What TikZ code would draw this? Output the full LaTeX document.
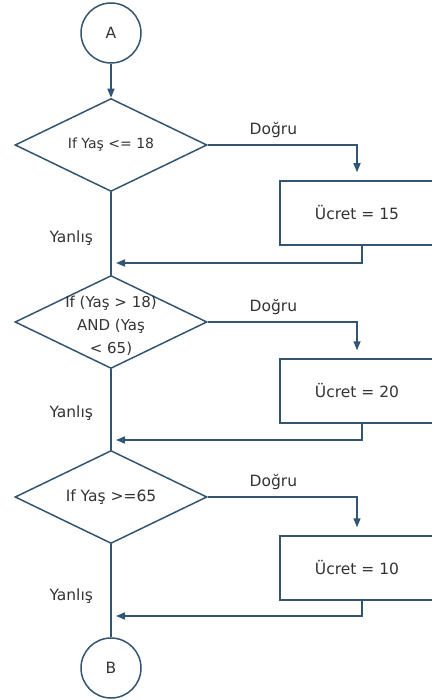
\documentclass[tikz,border=0pt]{standalone}
\usepackage{fontspec}
\setmainfont{DejaVu Sans}
\usetikzlibrary{arrows.meta,
                shapes.geometric}

\definecolor{lineblue}{HTML}{34546F}
\definecolor{tipblue}{HTML}{1F5C99}
\definecolor{txtgray}{HTML}{333333}

\begin{document}
\begin{tikzpicture}%
            [x = 1pt, y = -1pt,
             line/.style = {draw = lineblue, line width = 1.5pt},
             arr/.style = {line, -{Triangle[length=9pt,width=7pt,fill=tipblue]}},
             term/.style = {circle, line, minimum size = 60pt, inner sep = 0pt},
             decision/.style = {diamond, line, minimum width = 192pt, minimum height = 93pt, inner sep = 0pt},
             process/.style = {rectangle, line, minimum width = 154pt, minimum height = 64pt},
             txt/.style = {text = txtgray, font = \fontsize{15.5}{17}\selectfont, align = center}]
            \useasboundingbox (0,0) rectangle (431,700);

            \node [term, txt] (A) at (111,33) {A};
            \node [decision] (d1) at (111,145) {};
            \node [txt, font = \fontsize{14}{16}\selectfont] (t1) at (d1) {If Yaş <= 18};
            \node [process, txt] (b1) at (357,213) {Ücret = 15};

            \node [decision] (d2) at (111,322) {};
            \node [txt, font = \fontsize{15}{23}\selectfont] (t2) at (111,326) {If (Yaş > 18)\\AND (Yaş\\< 65)};
            \node [process, txt] (b2) at (357,391) {Ücret = 20};

            \node [decision] (d3) at (111,497) {};
            \node [txt] (t3) at (d3) {If Yaş >=65};
            \node [process, txt] (b3) at (357,568) {Ücret = 10};

            \node [term, txt] (B) at (111,668) {B};

            \coordinate (j1) at (111,263);
            \coordinate (j2) at (111,440);
            \coordinate (j3) at (111,616);

            \draw [arr] (A) -- (d1);

            \draw [arr, shorten > = 8pt] (d1.east) -| node [txt, pos = 0.22, above = 3pt] {Doğru} (b1.north);
            \draw [arr, shorten > = 8pt] (d2.east) -| node [txt, pos = 0.22, above = 3pt] {Doğru} (b2.north);
            \draw [arr, shorten > = 8pt] (d3.east) -| node [txt, pos = 0.22, above = 3pt] {Doğru} (b3.north);

            \draw [line] (d1.south) -- node [txt, pos = 0.55, left = 14pt] {Yanlış} (d2.north);
            \draw [line] (d2.south) -- node [txt, pos = 0.55, left = 14pt] {Yanlış} (d3.north);
            \draw [line] (d3.south) -- node [txt, pos = 0.56, left = 14pt] {Yanlış} (B);

            \draw [arr, shorten > = 5pt] ([xshift=5pt]b1.south) |- (j1);
            \draw [arr, shorten > = 5pt] ([xshift=5pt]b2.south) |- (j2);
            \draw [arr, shorten > = 5pt] ([xshift=5pt]b3.south) |- (j3);
        \end{tikzpicture}
\end{document}
